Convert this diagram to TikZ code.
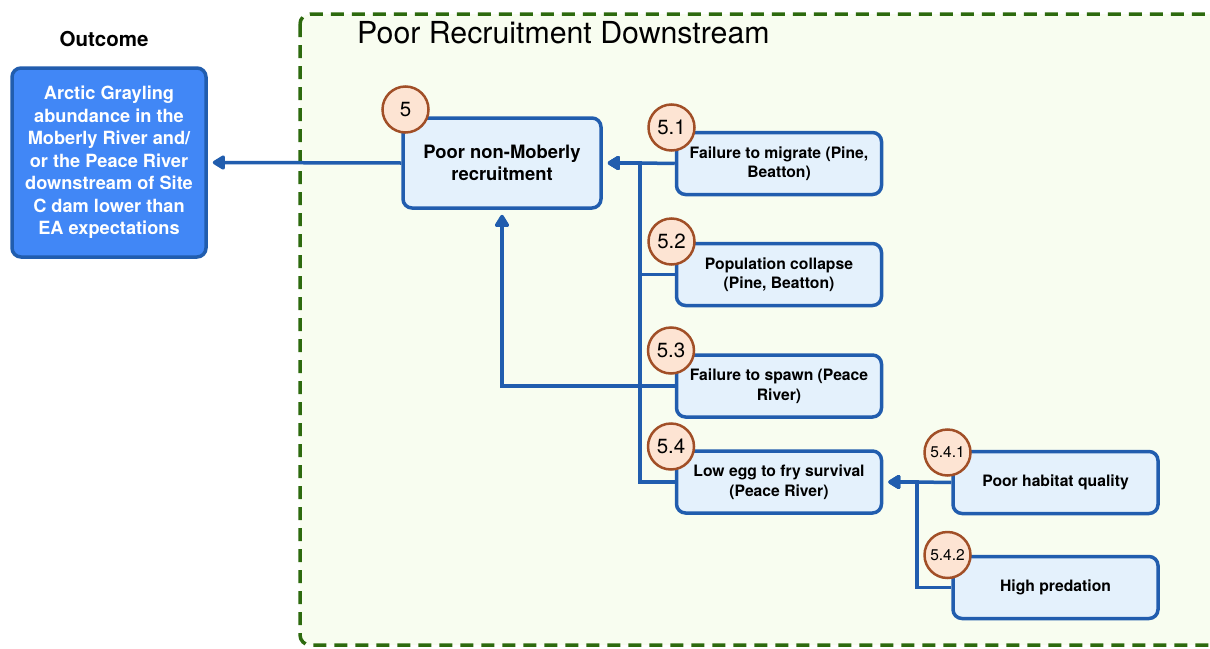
\documentclass[tikz,border=0pt]{standalone}
\usepackage{fontspec}
\setmainfont{TeX Gyre Heros}
\usetikzlibrary{arrows.meta}

\definecolor{lineblue}{HTML}{215DAE}
\definecolor{nodefill}{HTML}{E4F1FC}
\definecolor{outfill}{HTML}{4187F6}
\definecolor{badgefill}{HTML}{FDE4D3}
\definecolor{badgeline}{HTML}{A14F27}
\definecolor{groupfill}{HTML}{F8FDF0}
\definecolor{groupline}{HTML}{2D6A0E}

\tikzset{
  cause/.style={draw=lineblue, fill=nodefill, line width=3.5pt, rounded corners=9pt,
    minimum width=205pt, minimum height=62pt, inner sep=0pt, align=center,
    font=\bfseries\fontsize{15.7}{19.5}\selectfont},
  badge/.style={circle, draw=badgeline, fill=badgefill, line width=2.5pt,
    minimum size=46pt, inner sep=0pt, font=\fontsize{20.5}{21}\selectfont},
  smallbadge/.style={badge, font=\fontsize{15.5}{16}\selectfont},
  link/.style={draw=lineblue, line width=3.5pt},
  arr/.style={link, -{Triangle[length=14pt,width=16pt,round]}, shorten >=5pt},
  groupbox/.style={draw=groupline, fill=groupfill, line width=3.5pt,
    dash pattern=on 13pt off 8pt, rounded corners=10pt}
}

\begin{document}
\begin{tikzpicture}[x=1pt, y=-1pt]
  \useasboundingbox[fill=white] (0,0) rectangle (1210,648);

  % group frame and its title
  \draw[groupbox] (300,14) rectangle (1225,645);
  \node[anchor=base west, inner sep=0pt, font=\fontsize{30.3}{32}\selectfont]
    (title) at (357,43) {Poor Recruitment Downstream};

  % outcome
  \node[font=\bfseries\fontsize{20.5}{22}\selectfont, inner sep=0pt]
    (outhead) at (104,39) {Outcome};
  \node[draw=lineblue, fill=outfill, line width=3.5pt, rounded corners=9pt,
    minimum width=194pt, minimum height=189pt, inner sep=0pt, align=center,
    text=white, font=\bfseries\fontsize{18.2}{22.5}\selectfont]
    (out) at (109,162.5) {Arctic Grayling\\abundance in the\\Moberly River and/\\or the Peace River\\downstream of Site\\C dam lower than\\EA expectations};

  % causes
  \node[cause, minimum width=198pt, minimum height=90pt,
    font=\bfseries\fontsize{18.4}{22}\selectfont]
    (n5) at (502,163) {Poor non-Moberly\\recruitment};
  \node[cause] (n51) at (779,163.5) {Failure to migrate (Pine,\\Beatton)};
  \node[cause] (n52) at (779,274.5) {Population collapse\\(Pine, Beatton)};
  \node[cause] (n53) at (779,386) {Failure to spawn (Peace\\River)};
  \node[cause] (n54) at (779,482) {Low egg to fry survival\\(Peace River)};
  \node[cause] (n541) at (1055.5,482.5) {Poor habitat quality};
  \node[cause] (n542) at (1055.5,587.5) {High predation};

  % bus joints
  \coordinate (bus5) at (640,163);
  \coordinate (bus54) at (917,482);

  % connectors
  \draw[arr] (n5.west) -- (out.east);
  \draw[arr] (n51.west) -- (bus5) -- (n5.east);
  \draw[arr] (n52.west) -- (n52.west -| bus5) -- (bus5) -- (n5.east);
  \draw[arr] (n54.west) -- (n54.west -| bus5) -- (bus5) -- (n5.east);
  \draw[arr] (n53.west) -| (n5.south);
  \draw[arr] (n541.west) -- (bus54) -- (n54.east);
  \draw[arr] (n542.west) -- (n542.west -| bus54) -- (bus54) -- (n54.east);

  % number badges
  \node[badge] (b5) at (405.5,109.5) {5};
  \node[badge] (b51) at (671.5,127.5) {5.1};
  \node[badge] (b52) at (671.5,241.5) {5.2};
  \node[badge] (b53) at (671,350.5) {5.3};
  \node[badge] (b54) at (671,446.5) {5.4};
  \node[smallbadge] (b541) at (947.5,452.5) {5.4.1};
  \node[smallbadge] (b542) at (947.5,555) {5.4.2};
\end{tikzpicture}
\end{document}
